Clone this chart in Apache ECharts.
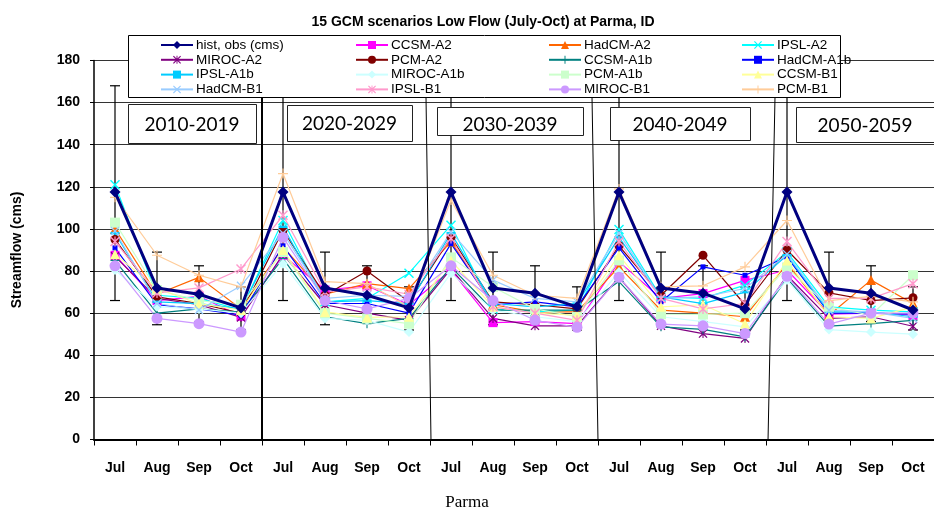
<!DOCTYPE html>
<html>
<head>
<meta charset="utf-8">
<script src="https://cdn.jsdelivr.net/npm/echarts@6/dist/echarts.min.js"></script>
<style>
  html, body { margin: 0; padding: 0; background: #fff; }
  #chart { width: 934px; height: 512px; }
</style>
</head>
<body>
<div id="chart"></div>
<script>
// categories: 5 decades x (Jul..Oct)
const months = ['Jul', 'Aug', 'Sep', 'Oct'];
const categories = [].concat(months, months, months, months, months);
const decades = ['2010-2019', '2020-2029', '2030-2039', '2040-2049', '2050-2059'];

// observed + error bar range
const hist = [117.5, 72, 69, 62.5, 117.5, 72, 68.5, 62.5, 117.5, 72, 69.5, 63, 117.5, 72, 69.5, 62, 117.5, 72, 69.5, 61.5];
const errLow = [66, 54.5, 56, 52, 66, 54.5, 56, 52, 66, 54.5, 56, 52, 66, 54.5, 56, 52, 66, 54.5, 56, 52];
const errHigh = [168, 89, 82.5, 72.5, 168, 89, 82.5, 72.5, 168, 89, 82.5, 72.5, 168, 89, 82.5, 72.5, 168, 89, 82.5, 72.5];

// GCM scenarios
const ccsmA2 = [87.5, 66, 68, 58.5, 87.5, 71, 73, 64, 80.5, 55.5, 56, 55, 84.5, 67, 69.3, 75.6, 80.5, 59.5, 60, 59];
const hadcmA2 = [100, 69, 77, 62, 91.5, 69, 74, 71.7, 94, 64, 60.6, 60.6, 82, 61.4, 60, 58.3, 83.5, 59, 75.7, 64.6];
const ipslA2 = [121, 68.5, 67, 61.5, 104, 65.4, 67, 79, 101.8, 62, 60.6, 61.5, 99.7, 67.7, 67, 73.3, 89, 63, 61.4, 60.6];
const mirocA2 = [87, 67, 64, 58, 88, 64, 60, 56.6, 81, 57.5, 54, 54, 77, 54, 50.3, 48, 78, 57.5, 58.3, 53.8];
const pcmA2 = [95, 67.7, 64.6, 60, 99.4, 68.5, 80, 65.4, 96, 65.4, 64, 62, 92, 68.5, 87.5, 64, 90, 69.6, 66, 67.3];
const ccsmA1b = [85, 60, 62, 60.5, 86, 58.3, 55, 57.5, 82, 61.4, 61.4, 61.4, 75, 53.5, 52.3, 48.7, 76.5, 53.8, 55, 56.6];
const hadcmA1b = [91, 64, 62, 59, 92, 64.6, 64.6, 60, 93, 64, 65.4, 63, 91, 65.4, 82, 78, 86.7, 60, 60, 59.5];
const ipslA1b = [98, 65.4, 64.5, 62, 101, 65.4, 66, 64.5, 98, 64.6, 63, 64.5, 96, 67.7, 64.5, 70, 87.5, 60.6, 60.6, 58.3];
const mirocA1b = [80.5, 63, 62, 60, 83.5, 57.5, 56.6, 51, 79, 61.4, 58.3, 56, 79.5, 58.3, 56, 53.5, 75.7, 52.2, 51, 50];
const pcmA1b = [103, 71, 66, 64, 89, 60, 57.5, 55, 86.5, 72.5, 62, 58.3, 85, 59.5, 59.4, 60, 81.7, 63, 59, 78];
const ccsmB1 = [88, 71.7, 64.5, 61.5, 90, 60.6, 58, 58.3, 85, 63, 60, 59, 87.5, 63, 64, 55, 85, 58.3, 57.5, 63];
const hadcmB1 = [99, 64.6, 61.5, 73, 98, 67, 68.5, 68, 98.6, 75.7, 67, 65.4, 98, 67, 67.7, 71.7, 88, 61.4, 60.6, 57.5];
const ipslB1 = [94, 69.6, 72, 81, 106.5, 70, 72.5, 69, 95.5, 63, 60, 56.6, 94, 67, 62, 64.6, 94, 67, 67, 74];
const mirocB1 = [82.5, 57.5, 55, 51, 96, 66, 62, 67, 82.5, 66, 56.6, 53.3, 77, 54.8, 54, 50.3, 77.5, 54.8, 60, 60];
const pcmB1 = [115, 87.5, 78, 72.5, 126.3, 75, 74, 63, 113.7, 78, 68.5, 67, 119, 72.5, 73, 82, 104, 66, 68, 65.4];

// marker shapes
const X = 'path://M0,1L1,0L5,4L9,0L10,1L6,5L10,9L9,10L5,6L1,10L0,9L4,5Z';
const PLUS = 'path://M4.4,0H5.6V4.4H10V5.6H5.6V10H4.4V5.6H0V4.4H4.4Z';
const STAR = 'path://M4.4,0H5.6V10H4.4Z M0,1L1,0L5,4L9,0L10,1L6,5L10,9L9,10L5,6L1,10L0,9L4,5Z';
const DASH = 'path://M0,0H10V2H0Z';

function gcm(name, data, color, symbol, size) {
  return {
    name: name, type: 'line', data: data, symbol: symbol, symbolSize: size || 8,
    color: color, lineStyle: { width: 1.2, color: color },
    itemStyle: { color: color }, z: 3, animation: false
  };
}

const chart = echarts.init(document.getElementById('chart'));

const legendCommon = {
  orient: 'vertical', top: 33, padding: [5, 0, 5, 0], itemWidth: 32, itemHeight: 10, itemGap: 0.8, z: 120,
  textStyle: { color: '#000', fontSize: 13.5, lineHeight: 11, fontFamily: 'Liberation Sans', padding: [0, 0, 0, -2] }
};

// decade text boxes
const boxes = [
  { x: 128, y: 104, w: 128, h: 39 },
  { x: 287, y: 105, w: 125, h: 36 },
  { x: 437, y: 107, w: 146, h: 28 },
  { x: 610, y: 107, w: 140, h: 33 },
  { x: 796, y: 107, w: 138, h: 35 }
];
const graphics = [
  { type: 'rect', shape: { x: 128.5, y: 35.5, width: 712, height: 62 }, style: { fill: '#fff', stroke: '#000', lineWidth: 1 }, z: 110 },
  { type: 'line', shape: { x1: 262, y1: 97, x2: 262, y2: 441 }, style: { stroke: '#000', lineWidth: 2 }, z: 200 },
  { type: 'line', shape: { x1: 426, y1: 97, x2: 431, y2: 441 }, style: { stroke: '#000', lineWidth: 1 }, z: 200 },
  { type: 'line', shape: { x1: 592, y1: 97, x2: 598, y2: 441 }, style: { stroke: '#000', lineWidth: 1 }, z: 200 },
  { type: 'line', shape: { x1: 775, y1: 97, x2: 768, y2: 441 }, style: { stroke: '#000', lineWidth: 1 }, z: 200 },
  { type: 'text', left: 'center', top: 494, style: { text: 'Parma', font: '17px "Liberation Serif"', fill: '#000' } }
];
boxes.forEach(function (b, i) {
  graphics.push({ type: 'rect', shape: { x: b.x + 0.5, y: b.y + 0.5, width: b.w, height: b.h }, style: { fill: '#fff', stroke: '#222', lineWidth: 1 }, z: 210 });
  graphics.push({ type: 'text', x: b.x + b.w / 2, y: b.y + b.h / 2 + (i === 2 ? 4 : 1), style: { text: decades[i], font: '19px Lato', fill: '#000', align: 'center', verticalAlign: 'middle' }, z: 211 });
});

const option = {
  animation: false,
  backgroundColor: '#fff',
  title: {
    text: '15 GCM scenarios Low Flow (July-Oct) at Parma, ID',
    left: 478, textAlign: 'center', top: 10,
    textStyle: { fontFamily: 'Liberation Sans', fontWeight: 'bold', fontSize: 14, color: '#000' }
  },
  legend: [
    Object.assign({ left: 160, data: ['hist, obs (cms)', 'MIROC-A2', 'IPSL-A1b', 'HadCM-B1'] }, legendCommon),
    Object.assign({ left: 355, data: ['CCSM-A2', 'PCM-A2', 'MIROC-A1b', 'IPSL-B1'] }, legendCommon),
    Object.assign({ left: 548, data: ['HadCM-A2', 'CCSM-A1b', 'PCM-A1b', 'MIROC-B1'] }, legendCommon),
    Object.assign({ left: 741, data: ['IPSL-A2', 'HadCM-A1b', 'CCSM-B1', 'PCM-B1'] }, legendCommon)
  ],
  grid: { left: 94, right: 0, top: 60.5, bottom: 72.5 },
  xAxis: {
    type: 'category', data: categories, boundaryGap: true,
    axisLine: { lineStyle: { color: '#000', width: 2 } },
    axisTick: { show: true, length: 6, lineStyle: { color: '#000' } },
    axisLabel: { color: '#000', fontWeight: 'bold', fontSize: 14, fontFamily: 'Liberation Sans', margin: 22, interval: 0 }
  },
  yAxis: {
    type: 'value', min: 0, max: 180, interval: 20,
    name: 'Streamflow (cms)', nameLocation: 'middle', nameGap: 70, nameRotate: 90,
    nameTextStyle: { color: '#000', fontWeight: 'bold', fontSize: 14, fontFamily: 'Liberation Sans' },
    axisLine: { show: true, lineStyle: { color: '#000', width: 1.5 } },
    axisTick: { show: true, length: 4, lineStyle: { color: '#000' } },
    axisLabel: { color: '#000', fontWeight: 'bold', fontSize: 14, fontFamily: 'Liberation Sans', margin: 14 },
    splitLine: { show: true, lineStyle: { color: '#333', width: 1.2 } }
  },
  series: [
    {
      name: 'error', type: 'custom', z: 2, animation: false,
      data: categories.map(function (c, i) { return [i, errLow[i], errHigh[i]]; }),
      renderItem: function (params, api) {
        const lo = api.coord([api.value(0), api.value(1)]);
        const hi = api.coord([api.value(0), api.value(2)]);
        const st = { stroke: '#000', lineWidth: 1.2 };
        return {
          type: 'group', children: [
            { type: 'line', shape: { x1: lo[0], y1: lo[1], x2: hi[0], y2: hi[1] }, style: st },
            { type: 'line', shape: { x1: lo[0] - 5, y1: lo[1], x2: lo[0] + 5, y2: lo[1] }, style: st },
            { type: 'line', shape: { x1: hi[0] - 5, y1: hi[1], x2: hi[0] + 5, y2: hi[1] }, style: st }
          ]
        };
      }
    },
    {
      name: 'hist, obs (cms)', type: 'line', data: hist, symbol: 'diamond', symbolSize: 11,
      color: '#000080', lineStyle: { width: 3, color: '#000080' }, itemStyle: { color: '#000080' }, z: 5
    },
    gcm('CCSM-A2', ccsmA2, '#FF00FF', 'rect', 9),
    gcm('HadCM-A2', hadcmA2, '#FF6600', 'triangle', 10),
    gcm('IPSL-A2', ipslA2, '#00FFFF', X, 10),
    gcm('MIROC-A2', mirocA2, '#800080', STAR, 9),
    gcm('PCM-A2', pcmA2, '#800000', 'circle', 9),
    gcm('CCSM-A1b', ccsmA1b, '#008080', PLUS, 9),
    gcm('HadCM-A1b', hadcmA1b, '#0000FF', 'rect', 5),
    gcm('IPSL-A1b', ipslA1b, '#00CCFF', DASH, [9, 2.5]),
    gcm('MIROC-A1b', mirocA1b, '#CCFFFF', 'diamond', 10),
    gcm('PCM-A1b', pcmA1b, '#CCFFCC', 'rect', 10),
    gcm('CCSM-B1', ccsmB1, '#FFFF99', 'triangle', 10),
    gcm('HadCM-B1', hadcmB1, '#99CCFF', X, 9),
    gcm('IPSL-B1', ipslB1, '#FF99CC', STAR, 10),
    gcm('MIROC-B1', mirocB1, '#CC99FF', 'circle', 11),
    gcm('PCM-B1', pcmB1, '#FFCC99', PLUS, 10)
  ],
  graphic: graphics
};

chart.setOption(option);
</script>
</body>
</html>
